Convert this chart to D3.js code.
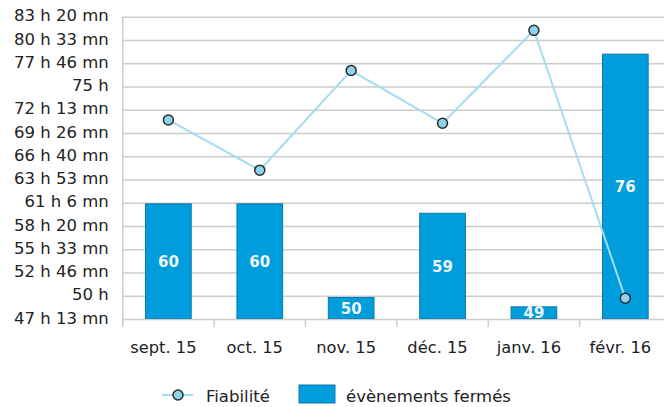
<!DOCTYPE html>
<html>
<head>
<meta charset="utf-8">
<script src="https://cdn.jsdelivr.net/npm/d3@7"></script>
<style>
  body { margin: 0; background: #fff; }
  svg { display: block; font-family: "DejaVu Sans", Verdana, sans-serif; }
</style>
</head>
<body>
<svg width="664" height="407"></svg>
<script>
const months = ['sept. 15', 'oct. 15', 'nov. 15', 'déc. 15', 'janv. 16', 'févr. 16'];
// évènements fermés (bar series)
const closedEvents = [60, 60, 50, 59, 49, 76];
// Fiabilité, in hours
const reliabilityHours = [71.0, 65.0, 76.9, 70.6, 81.7, 49.7];
// y ticks are every 10000 s, in hours
const yTickSeconds = d3.range(170000, 300001, 10000);
const yTickLabels = ['47 h 13 mn', '50 h', '52 h 46 mn', '55 h 33 mn', '58 h 20 mn', '61 h 6 mn',
  '63 h 53 mn', '66 h 40 mn', '69 h 26 mn', '72 h 13 mn', '75 h', '77 h 46 mn', '80 h 33 mn', '83 h 20 mn'];

const svg = d3.select('svg');
const plotTop = 16.7, plotBottom = 319, plotLeft = 122.7, plotRight = 671;
const font = '"DejaVu Sans", Verdana, sans-serif';

const x = d3.scaleBand().domain(months).range([plotLeft, plotRight]).paddingInner(0).paddingOuter(0);
const y = d3.scaleLinear().domain([170000 / 3600, 300000 / 3600]).range([plotBottom, plotTop]);
// hidden secondary scale for the bars
const yBar = d3.scaleLinear().domain([47.7, 80]).range([plotBottom, plotTop]);

svg.append('defs').append('clipPath').attr('id', 'plot')
  .append('rect').attr('x', plotLeft).attr('y', plotTop)
  .attr('width', plotRight - plotLeft).attr('height', plotBottom - plotTop);

// gridlines + left axis
const yAxis = svg.append('g')
  .attr('transform', `translate(${plotLeft},0)`)
  .call(d3.axisLeft(y)
    .tickValues(yTickSeconds.map(s => s / 3600))
    .tickSize(-(plotRight - plotLeft))
    .tickPadding(14)
    .tickFormat((d, i) => yTickLabels[i]))
  .attr('font-family', font);
yAxis.select('.domain').attr('stroke', '#cccccc').attr('stroke-width', 1.5).attr('d', `M0,${plotTop}V${plotBottom + 8}`);
yAxis.selectAll('.tick line').attr('stroke', '#cccccc').attr('stroke-width', 1.5);
yAxis.selectAll('.tick text').attr('fill', '#222').attr('dy', '0.25em').style('font-size', '16.5px');

// x axis
const xAxis = svg.append('g')
  .attr('transform', `translate(-5,${plotBottom})`)
  .call(d3.axisBottom(x).tickSize(0).tickPadding(22.5))
  .attr('font-family', font);
xAxis.select('.domain').remove();
xAxis.selectAll('.tick text').attr('fill', '#222').style('font-size', '16.3px');
svg.append('g').selectAll('line')
  .data(months.slice(1))
  .join('line')
  .attr('x1', d => x(d)).attr('x2', d => x(d))
  .attr('y1', plotBottom).attr('y2', plotBottom + 8)
  .attr('stroke', '#cccccc').attr('stroke-width', 1.5);

const plot = svg.append('g').attr('clip-path', 'url(#plot)');
const barW = x.bandwidth() * 0.5;

plot.selectAll('rect.bar')
  .data(closedEvents)
  .join('rect')
  .attr('class', 'bar')
  .attr('x', (d, i) => x(months[i]) + (x.bandwidth() - barW) / 2)
  .attr('y', d => yBar(d))
  .attr('width', barW)
  .attr('height', d => plotBottom - yBar(d))
  .attr('fill', '#009ddc')
  .attr('stroke', '#0a78ad')
  .attr('stroke-width', 1);

plot.selectAll('text.lbl')
  .data(closedEvents)
  .join('text')
  .attr('class', 'lbl')
  .attr('x', (d, i) => x(months[i]) + x.bandwidth() / 2)
  .attr('y', d => (yBar(d) + plotBottom) / 2)
  .attr('dy', '0.36em')
  .attr('text-anchor', 'middle')
  .attr('fill', '#eef7fb')
  .style('font-size', '15px')
  .style('font-weight', 'bold')
  .text(d => d);

const line = d3.line()
  .x((d, i) => x(months[i]) + x.bandwidth() / 2)
  .y(d => y(d));

svg.append('path')
  .datum(reliabilityHours)
  .attr('d', line)
  .attr('fill', 'none')
  .attr('stroke', '#a5dcf0')
  .attr('stroke-width', 2);

svg.selectAll('circle.pt')
  .data(reliabilityHours)
  .join('circle')
  .attr('class', 'pt')
  .attr('cx', (d, i) => x(months[i]) + x.bandwidth() / 2)
  .attr('cy', d => y(d))
  .attr('r', 5)
  .attr('fill', '#8fd2ee')
  .attr('stroke', '#2a2a2a')
  .attr('stroke-width', 1.5);

// legend
const legend = svg.append('g');
legend.append('line')
  .attr('x1', 162).attr('x2', 193).attr('y1', 395).attr('y2', 395)
  .attr('stroke', '#a5dcf0').attr('stroke-width', 2);
legend.append('circle')
  .attr('cx', 178).attr('cy', 395).attr('r', 5)
  .attr('fill', '#8fd2ee').attr('stroke', '#2a2a2a').attr('stroke-width', 1.5);
legend.append('text')
  .attr('x', 206).attr('y', 396).attr('dy', '0.36em')
  .attr('fill', '#222').style('font-size', '16.5px')
  .text('Fiabilité');
legend.append('rect')
  .attr('x', 299).attr('y', 385).attr('width', 36).attr('height', 18)
  .attr('fill', '#009ddc').attr('stroke', '#0a78ad');
legend.append('text')
  .attr('x', 346).attr('y', 396).attr('dy', '0.36em')
  .attr('fill', '#222').style('font-size', '16.5px')
  .text('évènements fermés');
</script>
</body>
</html>
